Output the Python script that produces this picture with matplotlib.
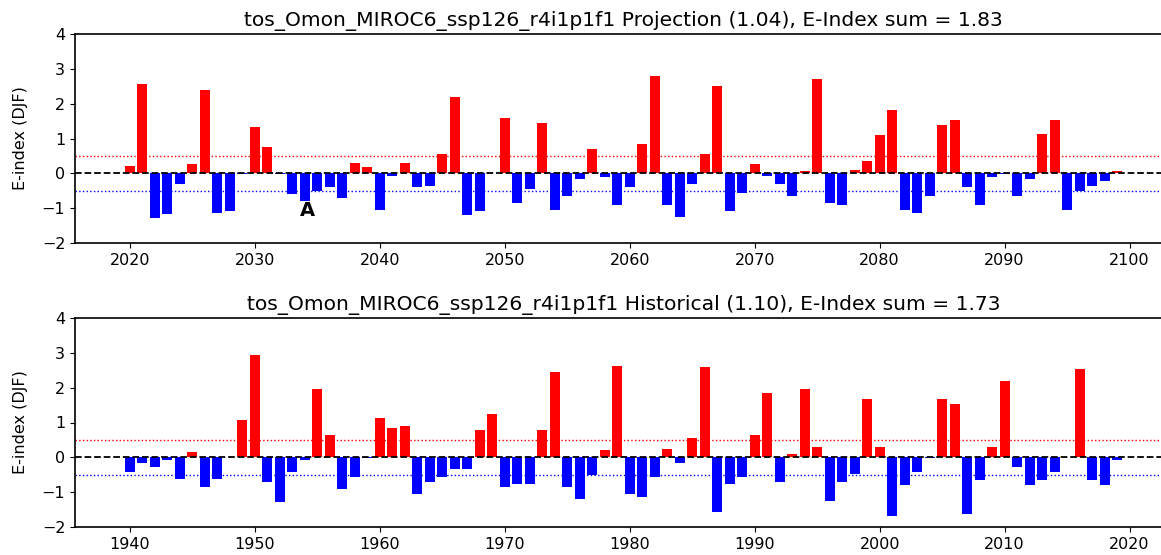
import numpy as np
import matplotlib
matplotlib.use("Agg")
import matplotlib.pyplot as plt

# E-index (DJF) values
years_proj = list(range(2020, 2100))
eidx_proj = [0.22, 2.56, -1.29, -1.18, -0.31, 0.26, 2.40, -1.14, -1.09, -0.02,
             1.33, 0.75, -0.02, -0.60, -0.80, -0.52, -0.40, -0.70, 0.31, 0.17,
             -1.04, -0.07, 0.31, -0.40, -0.36, 0.56, 2.20, -1.19, -1.09, 0.0,
             1.58, -0.85, -0.46, 1.44, -1.04, -0.65, -0.16, 0.70, -0.11, -0.90,
             -0.40, 0.85, 2.80, -0.90, -1.24, -0.31, 0.56, 2.50, -1.09, -0.56,
             0.26, -0.07, -0.31, -0.65, 0.07, 2.70, -0.85, -0.90, 0.11, 0.36,
             1.09, 1.82, -1.04, -1.14, -0.65, 1.38, 1.53, -0.40, -0.90, -0.11,
             -0.01, -0.65, -0.16, 1.14, 1.53, -1.04, -0.51, -0.35, -0.21, 0.07]

years_hist = list(range(1940, 2020))
eidx_hist = [-0.42, -0.17, -0.27, -0.08, -0.61, 0.15, -0.86, -0.61, 0.0, 1.08,
             2.93, -0.71, -1.29, -0.42, -0.08, 1.95, 0.64, -0.90, -0.57, -0.01,
             1.13, 0.84, 0.89, -1.05, -0.71, -0.57, -0.33, -0.33, 0.79, 1.23,
             -0.86, -0.76, -0.76, 0.79, 2.44, -0.86, -1.20, -0.52, 0.20, 2.63,
             -1.05, -1.15, -0.57, 0.25, -0.17, 0.55, 2.59, -1.58, -0.76, -0.57,
             0.64, 1.86, -0.71, 0.11, 1.95, 0.30, -1.25, -0.71, -0.47, 1.67,
             0.30, -1.68, -0.80, -0.42, -0.01, 1.67, 1.52, -1.63, -0.66, 0.30,
             2.20, -0.27, -0.80, -0.66, -0.42, 0.0, 2.54, -0.66, -0.80, -0.08]

titles = ["tos_Omon_MIROC6_ssp126_r4i1p1f1 Projection (1.04), E-Index sum = 1.83",
          "tos_Omon_MIROC6_ssp126_r4i1p1f1 Historical (1.10), E-Index sum = 1.73"]

fig = plt.figure(figsize=(11.61, 5.55), dpi=100)
W, H = 1161, 555
ax1 = fig.add_axes([75 / W, (H - 243) / H, 1097 / W, 209 / H])
ax2 = fig.add_axes([75 / W, (H - 527) / H, 1097 / W, 209 / H])

for ax, yrs, vals, title in [(ax1, years_proj, eidx_proj, titles[0]),
                             (ax2, years_hist, eidx_hist, titles[1])]:
    vals = np.array(vals)
    colors = np.where(vals > 0, "red", "blue")
    ax.bar(yrs, vals, width=0.8, color=colors)
    ax.axhline(0, color="k", linestyle="--", linewidth=1.3)
    ax.axhline(0.5, color="r", linestyle=":", linewidth=1)
    ax.axhline(-0.5, color="b", linestyle=":", linewidth=1)
    ax.set_ylim(-2, 4)
    ax.set_xlim(yrs[0] - 4.4, yrs[-1] + 4.4)
    ax.set_ylabel("E-index (DJF)", fontsize=11.5, labelpad=10)
    ax.set_title(title, fontsize=14.6)
    ax.tick_params(labelsize=11.5)
    for s in ax.spines.values():
        s.set_linewidth(1.2)
    ax.spines["right"].set_visible(False)

ax1.text(2034.2, -1.07, "A", fontsize=14, fontweight="bold", ha="center", va="center")

fig.savefig("out.png", dpi=100)
